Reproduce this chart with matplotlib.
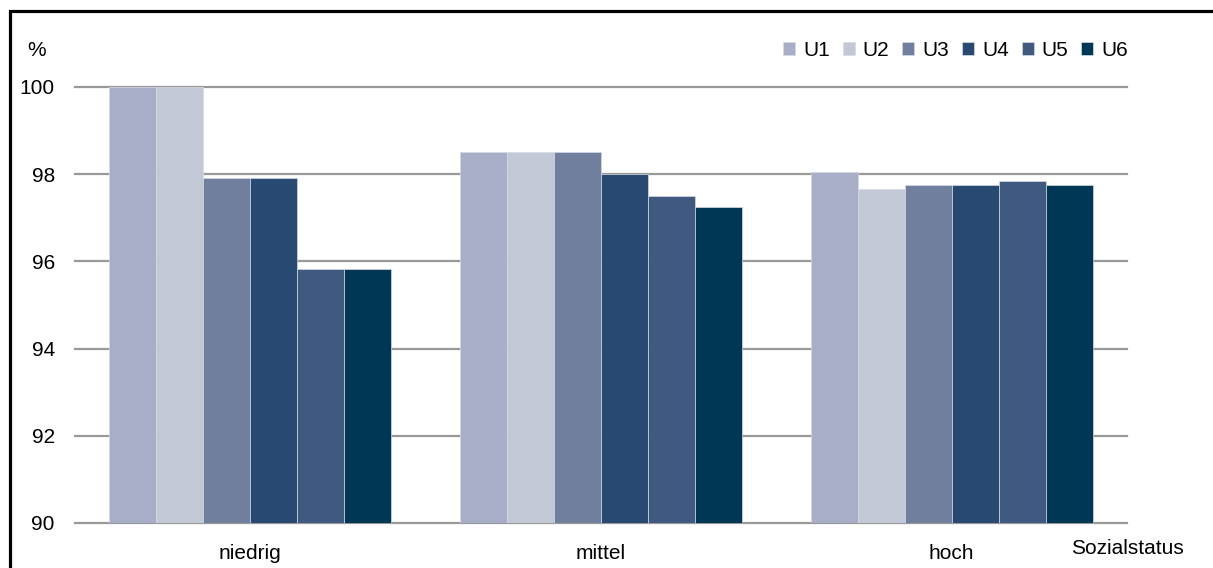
import matplotlib
matplotlib.use("Agg")
import matplotlib.pyplot as plt
from matplotlib.patches import Rectangle
import numpy as np

plt.rcParams['font.family'] = ['Liberation Sans', 'DejaVu Sans']

categories = ["niedrig", "mittel", "hoch"]
series = ["U1", "U2", "U3", "U4", "U5", "U6"]
values = {
    "U1": [100.0, 98.5, 98.06],
    "U2": [100.0, 98.5, 97.65],
    "U3": [97.92, 98.5, 97.75],
    "U4": [97.92, 98.0, 97.75],
    "U5": [95.83, 97.5, 97.84],
    "U6": [95.83, 97.25, 97.75],
}
colors = ["#A9AEC8", "#C3C8D6", "#717F9E", "#284A72", "#405980", "#003755"]
yticks = [90, 92, 94, 96, 98, 100]

FS = 15
W, H = 1213, 568
fig = plt.figure(figsize=(W / 100, H / 100), dpi=100)
ax = fig.add_axes([75 / W, 1 - 523 / H, (1127 - 75) / W, (523 - 87) / H])

x = np.arange(len(categories))
bw = 0.134
for i, (name, col) in enumerate(zip(series, colors)):
    offs = (i - (len(series) - 1) / 2) * bw
    ax.bar(x + offs, values[name], bw, bottom=0, color=col, edgecolor="#d5dae3",
           linewidth=0.5, label=name, zorder=3)

ax.set_ylim(90, 100)
ax.set_xlim(-0.5, 2.5)
ax.set_yticks(yticks)
ax.set_yticklabels([str(t) for t in yticks])
ax.set_xticks(x)
ax.set_xticklabels(categories)
ax.tick_params(axis="both", length=0, labelsize=FS, colors="black")
ax.tick_params(axis="y", pad=14.5)
ax.tick_params(axis="x", pad=15)
for s in ax.spines.values():
    s.set_visible(False)
for t in yticks:
    ax.axhline(t, color="#999999", linewidth=1.6, zorder=2, clip_on=False)

fig.text(27 / W, 1 - 50 / H, "%", fontsize=FS, va="center", ha="left")
fig.text(1071 / W, 1 - 549 / H, "Sozialstatus", fontsize=FS, va="center", ha="left")

leg = fig.legend(loc="center right", bbox_to_anchor=(1128 / W, 1 - 50 / H), ncol=6,
                 frameon=False, fontsize=FS, handlelength=0.58, handleheight=0.58,
                 handletextpad=0.38, columnspacing=0.62, borderaxespad=0, borderpad=0)

# outer frame
fig.patches.append(Rectangle((10 / W, -0.2), 1.5, 1 - 11 / H + 0.2, transform=fig.transFigure,
                             fill=False, edgecolor="black", linewidth=2.3, clip_on=False))

fig.savefig("out.png", dpi=100)
